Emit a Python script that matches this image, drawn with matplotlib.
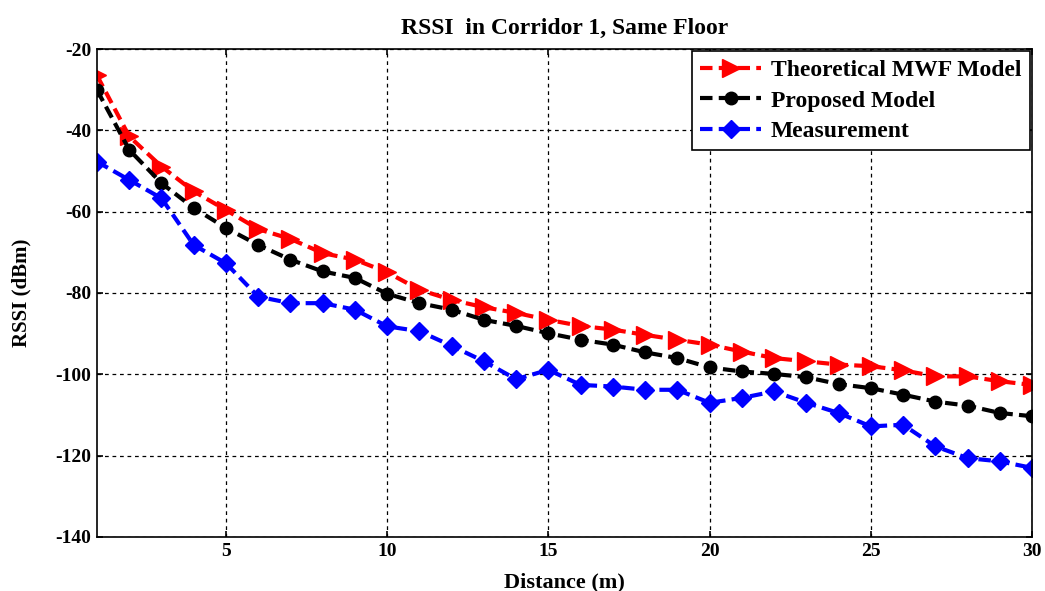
import numpy as np
import matplotlib
matplotlib.use("Agg")
from matplotlib import pyplot as plt
import matplotlib.ticker as mticker

# DATA
distance = list(range(1, 31))
theoretical = [-26.5, -41.5, -48.9, -55.0, -59.6, -64.3, -66.7, -70.2, -71.8, -74.9,
               -79.2, -81.7, -83.5, -84.9, -86.6, -88.1, -89.0, -90.3, -91.5, -92.7,
               -94.4, -96.0, -96.8, -97.6, -98.0, -99.0, -100.5, -100.5, -101.7, -102.6]
proposed = [-30.1, -44.8, -53.0, -59.1, -64.0, -68.2, -71.8, -74.7, -76.3, -80.2,
            -82.5, -84.1, -86.6, -88.1, -89.9, -91.5, -92.7, -94.6, -96.0, -98.3,
            -99.3, -99.9, -100.7, -102.4, -103.4, -105.0, -106.7, -107.7, -109.5, -110.3]
measurement = [-47.7, -52.2, -56.7, -68.2, -72.7, -80.9, -82.5, -82.5, -84.1, -88.2,
               -89.4, -93.0, -96.8, -101.2, -98.9, -102.6, -103.0, -103.8, -103.8, -107.0,
               -105.8, -104.2, -107.0, -109.5, -112.8, -112.4, -117.7, -120.6, -121.4, -123.0]

plt.rcParams['font.family'] = ['Liberation Serif', 'DejaVu Serif']
plt.rcParams['font.weight'] = 'bold'
plt.rcParams['axes.unicode_minus'] = False

# SET PLOT
fig = plt.figure(figsize=(10.45, 5.91), dpi=100)
ax = fig.add_axes([97 / 1045, 1 - 537 / 591, 935 / 1045, 488 / 591])

ax.plot(distance, theoretical, color="red", linestyle="--", linewidth=3,
        marker=">", markersize=13, dashes=(3, 1.5), label="Theoretical MWF Model")
ax.plot(distance, proposed, color="black", linestyle="--", linewidth=3,
        marker="o", markersize=9, dashes=(3, 1.5), label="Proposed Model")
ax.plot(distance, measurement, color="blue", linestyle="--", linewidth=3,
        marker="D", markersize=9, dashes=(3, 1.5), label="Measurement")

ax.set_xlim(1, 30)
ax.set_ylim(-140, -20)
ax.xaxis.set_major_locator(mticker.FixedLocator([5, 10, 15, 20, 25, 30]))
ax.yaxis.set_major_locator(mticker.MultipleLocator(20))
ax.tick_params(direction="in", length=4, width=1.2, labelsize=14,
               top=True, right=True, pad=4)
for lab in ax.get_xticklabels() + ax.get_yticklabels():
    lab.set_fontweight("bold")
ax.grid(True, color="black", linestyle=(0, (3, 3)), linewidth=0.9)
for sp in ax.spines.values():
    sp.set_linewidth(1.2)

# TITLES GRAPH X AND Y
ax.set_title("RSSI  in Corridor 1, Same Floor", fontsize=17, fontweight="bold", pad=11)
ax.set_xlabel("Distance (m)", fontsize=16, fontweight="bold", labelpad=9)
ax.set_ylabel("RSSI (dBm)", fontsize=15, fontweight="bold", labelpad=17)

leg = ax.legend(loc="upper right", bbox_to_anchor=(1.0, 1.0), fontsize=17,
                fancybox=False, framealpha=1, edgecolor="black",
                borderaxespad=0.1, handlelength=2.6, handletextpad=0.4,
                labelspacing=0.38, borderpad=0.35, markerscale=1.0)
leg.get_frame().set_linewidth(1.2)
for t in leg.get_texts():
    t.set_fontweight("bold")

fig.savefig("out.png", dpi=100)
